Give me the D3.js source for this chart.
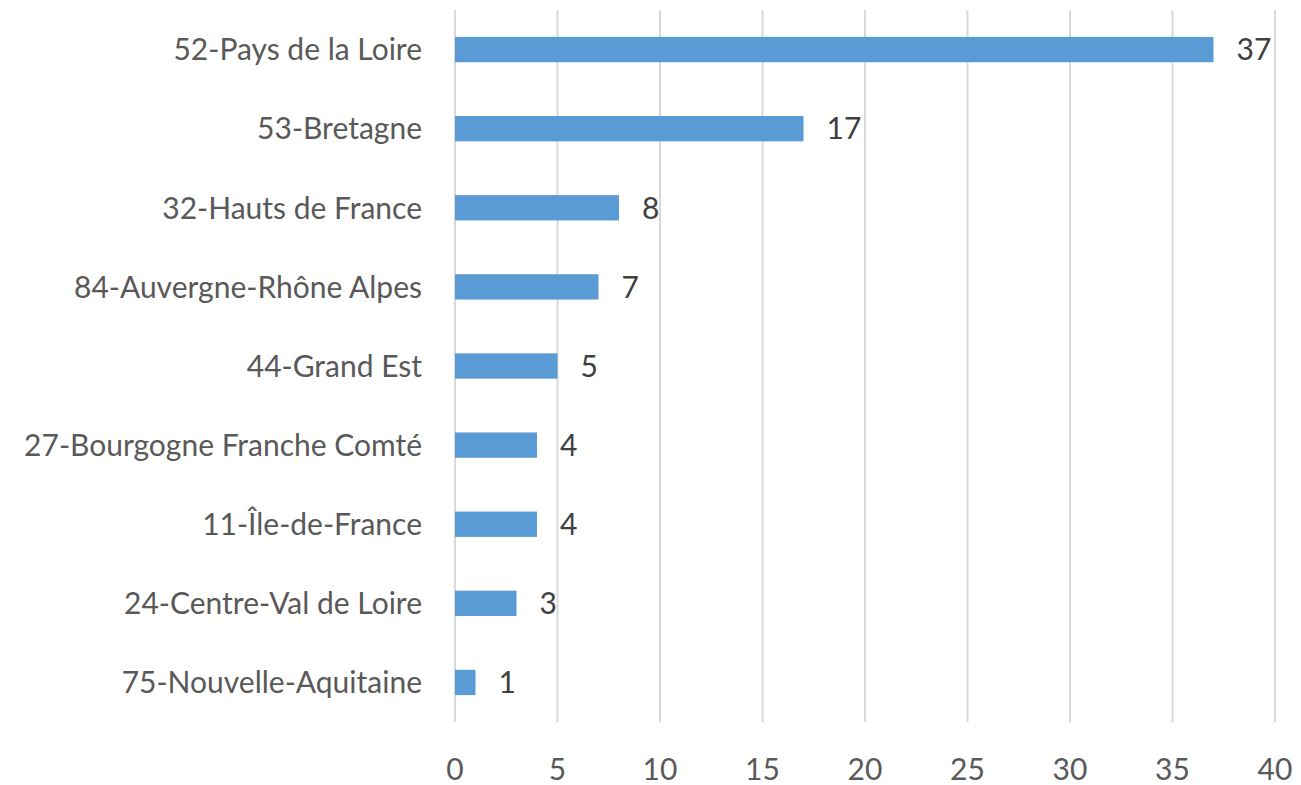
<!DOCTYPE html>
<html><head><meta charset="utf-8">
<script src="https://cdn.jsdelivr.net/npm/d3@7"></script>
<style>body{margin:0;background:#fff;}svg{display:block;}</style>
</head><body>
<script>
const categories = ["52-Pays de la Loire","53-Bretagne","32-Hauts de France","84-Auvergne-Rhône Alpes","44-Grand Est","27-Bourgogne Franche Comté","11-Île-de-France","24-Centre-Val de Loire","75-Nouvelle-Aquitaine"];
const values = [37,17,8,7,5,4,4,3,1];
const xTicks = [0,5,10,15,20,25,30,35,40];

const W = 1301, H = 785;
const svg = d3.select("body").append("svg").attr("width", W).attr("height", H);
const font = "Lato, 'Open Sans', sans-serif";
const fs = 30;
const x = d3.scaleLinear().domain([0,40]).range([455,1275]);
const y = d3.scaleBand().domain(categories).range([10,722]).paddingInner(0.68).paddingOuter(0.34);

svg.append("g").selectAll("line").data(xTicks).join("line")
  .attr("x1", d=>x(d)).attr("x2", d=>x(d)).attr("y1",10).attr("y2",722)
  .attr("stroke","#d9d9d9").attr("stroke-width",2);

svg.append("g").selectAll("rect").data(values).join("rect")
  .attr("x", x(0)).attr("y",(d,i)=>y(categories[i]))
  .attr("width", d=>x(d)-x(0)).attr("height", y.bandwidth())
  .attr("fill","#5b9bd5");

svg.append("g").selectAll("text").data(values).join("text")
  .attr("x", d=>x(d)+23).attr("y",(d,i)=>y(categories[i])+y.bandwidth()/2)
  .attr("dy","0.36em").attr("font-family",font).attr("font-size",fs).attr("fill","#404040")
  .text(d=>d);

svg.append("g").selectAll("text").data(categories).join("text")
  .attr("x",422).attr("y",d=>y(d)+y.bandwidth()/2).attr("dy","0.36em")
  .attr("text-anchor","end").attr("font-family",font).attr("font-size",fs).attr("fill","#595959")
  .text(d=>d);

svg.append("g").selectAll("text").data(xTicks).join("text")
  .attr("x",d=>x(d)).attr("y",769).attr("dy","0.36em").attr("text-anchor","middle")
  .attr("font-family",font).attr("font-size",fs).attr("fill","#595959").text(d=>d);
</script>
</body></html>
